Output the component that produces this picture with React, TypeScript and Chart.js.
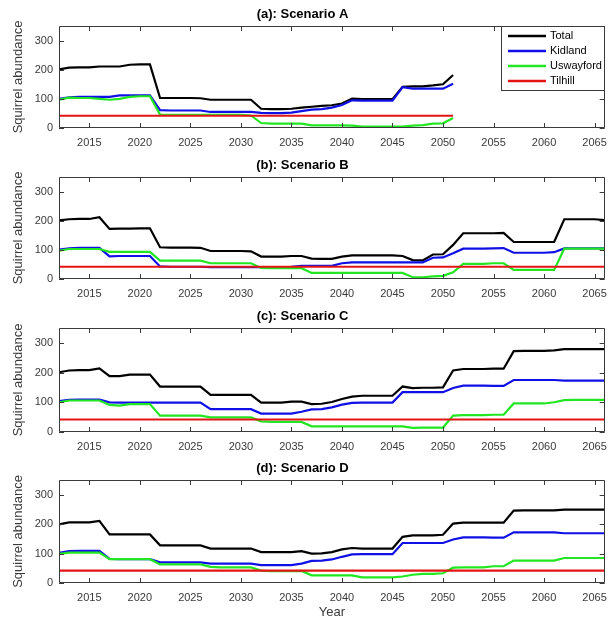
import React, { useEffect, useRef } from "react";
import { Chart, registerables } from "chart.js";

Chart.register(...registerables);

// ---------- data ----------
const YEARS_A = [
  2012, 2013, 2014, 2015, 2016, 2017, 2018, 2019, 2020, 2021,
  2022, 2023, 2024, 2025, 2026, 2027, 2028, 2029, 2030, 2031,
  2032, 2033, 2034, 2035, 2036, 2037, 2038, 2039, 2040, 2041,
  2042, 2043, 2044, 2045, 2046, 2047, 2048, 2049, 2050, 2051,
];
const YEARS = [
  2012, 2013, 2014, 2015, 2016, 2017, 2018, 2019, 2020, 2021,
  2022, 2023, 2024, 2025, 2026, 2027, 2028, 2029, 2030, 2031,
  2032, 2033, 2034, 2035, 2036, 2037, 2038, 2039, 2040, 2041,
  2042, 2043, 2044, 2045, 2046, 2047, 2048, 2049, 2050, 2051,
  2052, 2053, 2054, 2055, 2056, 2057, 2058, 2059, 2060, 2061,
  2062, 2063, 2064, 2065, 2066,
];

const X_TICKS = [2015, 2020, 2025, 2030, 2035, 2040, 2045, 2050, 2055, 2060, 2065];
const Y_TICKS = [0, 100, 200, 300];

const SERIES_NAMES = ["Total", "Kidland", "Uswayford", "Tilhill"];
const SERIES_COLORS = ["#000000", "#1010e6", "#22e622", "#e41414"];

const PANEL_TITLES = ["(a): Scenario A", "(b): Scenario B", "(c): Scenario C", "(d): Scenario D"];

// Scenario A (2012-2051)
const TOTAL_A = [
  201, 207, 208, 208, 211, 211, 211, 217, 218, 218,
  103, 103, 103, 103, 102, 97, 97, 97, 97, 97,
  66, 65, 65, 66, 70, 73, 76, 78, 84, 101,
  99, 99, 99, 99, 141, 143, 143, 146, 150, 182,
];
const KIDLAND_A = [
  100, 105, 107, 107, 107, 107, 112, 112, 112, 112,
  61, 60, 60, 60, 60, 55, 55, 55, 55, 55,
  52, 51, 51, 53, 58, 63, 65, 70, 79, 95,
  94, 94, 94, 94, 140, 135, 135, 135, 135, 152,
];
const USWAYFORD_A = [
  97, 104, 103, 103, 100, 97, 100, 107, 109, 109,
  46, 45, 45, 45, 45, 45, 45, 45, 45, 43,
  17, 15, 15, 15, 15, 9, 9, 9, 9, 8,
  5, 5, 5, 5, 5, 8, 10, 15, 16, 34,
];
const TILHILL_A = [
  42, 42, 42, 42, 42, 42, 42, 42, 42, 42,
  42, 42, 42, 42, 42, 42, 42, 42, 42, 42,
  42, 42, 42, 42, 42, 42, 42, 42, 42, 42,
  42, 42, 42, 42, 42, 42, 42, 42, 42, 42,
];

// Scenario B (2012-2066)
const TOTAL_B = [
  201, 205, 206, 206, 212, 172, 173, 173, 174, 174,
  109, 108, 108, 108, 107, 96, 96, 96, 96, 95,
  77, 77, 77, 79, 79, 70, 69, 69, 77, 81,
  81, 81, 81, 81, 79, 65, 64, 84, 85, 117,
  157, 157, 157, 157, 158, 127, 127, 127, 127, 127,
  205, 205, 205, 205, 202,
];
const KIDLAND_B = [
  101, 105, 107, 107, 107, 78, 79, 79, 79, 79,
  43, 42, 42, 42, 42, 41, 41, 41, 41, 41,
  41, 41, 41, 42, 45, 45, 45, 45, 54, 57,
  57, 57, 57, 57, 57, 57, 57, 73, 74, 88,
  104, 104, 104, 105, 106, 90, 90, 90, 90, 92,
  105, 105, 105, 105, 105,
];
const USWAYFORD_B = [
  97, 103, 103, 103, 103, 93, 93, 93, 93, 93,
  63, 63, 63, 63, 63, 54, 54, 54, 54, 54,
  38, 37, 37, 37, 37, 21, 21, 21, 21, 21,
  21, 21, 21, 21, 21, 6, 6, 9, 11, 23,
  52, 52, 52, 54, 54, 31, 31, 31, 31, 31,
  104, 104, 104, 104, 104,
];
const TILHILL_B = [
  42, 42, 42, 42, 42, 42, 42, 42, 42, 42,
  42, 42, 42, 42, 42, 42, 42, 42, 42, 42,
  42, 42, 42, 42, 42, 42, 42, 42, 42, 42,
  42, 42, 42, 42, 42, 42, 42, 42, 42, 42,
  42, 42, 42, 42, 42, 42, 42, 42, 42, 42,
  42, 42, 42, 42, 42,
];

// Scenario C (2012-2066)
const TOTAL_C = [
  201, 207, 208, 208, 214, 188, 188, 193, 193, 193,
  153, 153, 153, 153, 153, 125, 125, 125, 125, 125,
  99, 99, 99, 102, 102, 94, 95, 101, 111, 119,
  122, 122, 122, 122, 153, 148, 149, 149, 150, 207,
  212, 212, 212, 213, 213, 272, 273, 273, 273, 275,
  279, 279, 279, 279, 279,
];
const KIDLAND_C = [
  104, 108, 109, 109, 109, 100, 99, 99, 99, 99,
  99, 99, 99, 99, 99, 77, 77, 77, 77, 77,
  62, 62, 62, 62, 68, 76, 77, 83, 92, 98,
  99, 99, 99, 99, 134, 134, 134, 134, 134, 148,
  156, 156, 156, 155, 155, 175, 175, 175, 175, 175,
  173, 173, 173, 173, 173,
];
const USWAYFORD_C = [
  100, 106, 106, 106, 106, 91, 89, 94, 94, 94,
  55, 55, 55, 55, 55, 49, 49, 49, 49, 49,
  36, 34, 34, 34, 34, 19, 19, 19, 19, 19,
  19, 19, 19, 19, 19, 14, 15, 15, 15, 55,
  57, 57, 57, 58, 58, 96, 96, 96, 96, 100,
  107, 108, 108, 108, 108,
];
const TILHILL_C = [
  42, 42, 42, 42, 42, 42, 42, 42, 42, 42,
  42, 42, 42, 42, 42, 42, 42, 42, 42, 42,
  42, 42, 42, 42, 42, 42, 42, 42, 42, 42,
  42, 42, 42, 42, 42, 42, 42, 42, 42, 42,
  42, 42, 42, 42, 42, 42, 42, 42, 42, 42,
  42, 42, 42, 42, 42,
];

// Scenario D (2012-2066)
const TOTAL_D = [
  199, 206, 206, 206, 211, 165, 165, 165, 165, 165,
  128, 128, 128, 128, 128, 117, 117, 117, 117, 117,
  105, 105, 105, 105, 108, 100, 101, 105, 114, 119,
  117, 117, 117, 117, 157, 162, 162, 162, 164, 202,
  205, 205, 205, 205, 205, 246, 247, 247, 247, 247,
  249, 249, 249, 249, 249,
];
const KIDLAND_D = [
  102, 108, 109, 109, 109, 82, 81, 81, 81, 81,
  70, 70, 70, 70, 70, 66, 66, 66, 66, 66,
  61, 61, 61, 61, 66, 75, 76, 80, 89, 97,
  98, 98, 98, 98, 136, 136, 136, 136, 136, 148,
  155, 155, 155, 154, 154, 172, 172, 172, 172, 172,
  169, 169, 169, 169, 169,
];
const USWAYFORD_D = [
  99, 103, 103, 103, 103, 81, 81, 81, 81, 81,
  63, 63, 63, 63, 63, 55, 53, 53, 53, 53,
  42, 40, 40, 40, 41, 26, 26, 26, 26, 26,
  19, 19, 19, 19, 22, 28, 31, 31, 33, 52,
  53, 53, 53, 57, 57, 76, 76, 76, 76, 76,
  85, 85, 85, 85, 85,
];
const TILHILL_D = [
  42, 42, 42, 42, 42, 42, 42, 42, 42, 42,
  42, 42, 42, 42, 42, 42, 42, 42, 42, 42,
  42, 42, 42, 42, 42, 42, 42, 42, 42, 42,
  42, 42, 42, 42, 42, 42, 42, 42, 42, 42,
  42, 42, 42, 42, 42, 42, 42, 42, 42, 42,
  42, 42, 42, 42, 42,
];

const PANEL_DATA = [
  { years: YEARS_A, series: [TOTAL_A, KIDLAND_A, USWAYFORD_A, TILHILL_A] },
  { years: YEARS, series: [TOTAL_B, KIDLAND_B, USWAYFORD_B, TILHILL_B] },
  { years: YEARS, series: [TOTAL_C, KIDLAND_C, USWAYFORD_C, TILHILL_C] },
  { years: YEARS, series: [TOTAL_D, KIDLAND_D, USWAYFORD_D, TILHILL_D] },
];

// ---------- layout ----------
const FONT = 'Arial, "Liberation Sans", Helvetica, sans-serif';
const AXIS_COLOR = "#3a3a3a";
const TITLE_H = 26;
const Y_AXIS_W = 59;
const PANEL_GEOM = [
  { top: 0, h: 150, plotH: 102 },
  { top: 151, h: 150, plotH: 102 },
  { top: 302, h: 151, plotH: 104 },
  { top: 454, h: 167, plotH: 103 },
];

const framePlugin = {
  id: "matlabFrame",
  afterDatasetsDraw(chart: any) {
    const { ctx, chartArea } = chart;
    const { left, right, top, bottom } = chartArea;
    const xs = chart.scales.x;
    const ys = chart.scales.y;
    const tl = 5;
    ctx.save();
    ctx.strokeStyle = AXIS_COLOR;
    ctx.lineWidth = 1;
    ctx.beginPath();
    ctx.rect(Math.round(left) + 0.5, Math.round(top) + 0.5, Math.round(right - left) - 1, Math.round(bottom - top) - 1);
    for (const t of xs.ticks) {
      const px = Math.round(xs.getPixelForValue(t.value)) + 0.5;
      ctx.moveTo(px, bottom);
      ctx.lineTo(px, bottom - tl);
      ctx.moveTo(px, top);
      ctx.lineTo(px, top + tl);
    }
    for (const t of ys.ticks) {
      const py = Math.round(ys.getPixelForValue(t.value)) + 0.5;
      ctx.moveTo(left, py);
      ctx.lineTo(left + tl, py);
      ctx.moveTo(right, py);
      ctx.lineTo(right - tl, py);
    }
    ctx.stroke();
    ctx.restore();
  },
};

const legendPlugin = {
  id: "matlabLegend",
  afterDraw(chart: any) {
    const { ctx, chartArea } = chart;
    const boxL = 501;
    const boxT = Math.round(chartArea.top);
    const boxR = Math.round(chartArea.right);
    const rowH = 15;
    const n = chart.data.datasets.length;
    const boxB = boxT + 9 + rowH * n - 5;
    ctx.save();
    ctx.fillStyle = "#ffffff";
    ctx.fillRect(boxL, boxT, boxR - boxL, boxB - boxT);
    ctx.strokeStyle = AXIS_COLOR;
    ctx.lineWidth = 1;
    ctx.strokeRect(boxL + 0.5, boxT + 0.5, boxR - boxL - 1, boxB - boxT);
    ctx.font = `11px ${FONT}`;
    ctx.textBaseline = "middle";
    ctx.textAlign = "left";
    chart.data.datasets.forEach((ds: any, i: number) => {
      const y = boxT + 10 + i * rowH;
      ctx.strokeStyle = ds.borderColor;
      ctx.lineWidth = 2.5;
      ctx.beginPath();
      ctx.moveTo(508, y);
      ctx.lineTo(546, y);
      ctx.stroke();
      ctx.fillStyle = "#000000";
      ctx.fillText(ds.label, 550, y);
    });
    ctx.restore();
  },
};

function Panel({ index }: { index: number }) {
  const ref = useRef<HTMLCanvasElement | null>(null);
  const geom = PANEL_GEOM[index];
  const isLast = index === PANEL_GEOM.length - 1;

  useEffect(() => {
    if (!ref.current) return;
    const pd = PANEL_DATA[index];
    const xAxisH = geom.h - TITLE_H - geom.plotH;
    const chart = new Chart(ref.current, {
      type: "line",
      data: {
        datasets: pd.series.map((vals, si) => ({
          label: SERIES_NAMES[si],
          data: pd.years.map((x, i) => ({ x, y: vals[i] })),
          borderColor: SERIES_COLORS[si],
          backgroundColor: SERIES_COLORS[si],
          borderWidth: 2.2,
          pointRadius: 0,
          tension: 0,
          fill: false,
          order: SERIES_NAMES.length - 1 - si,
        })),
      },
      options: {
        animation: false,
        responsive: false,
        maintainAspectRatio: false,
        events: [],
        layout: { padding: { left: 0, right: 10, top: 0, bottom: 0 } },
        plugins: {
          legend: { display: false },
          tooltip: { enabled: false },
          title: {
            display: true,
            text: PANEL_TITLES[index],
            color: "#000000",
            font: { family: FONT, size: 13, weight: "bold" },
            padding: { top: 7, bottom: 3.4 },
          },
        },
        scales: {
          x: {
            type: "linear",
            min: 2012,
            max: 2066,
            grid: { display: false, drawTicks: false, tickLength: 0 },
            border: { display: false },
            afterBuildTicks: (s: any) => {
              s.ticks = X_TICKS.map((v) => ({ value: v }));
            },
            afterFit: (s: any) => {
              s.height = xAxisH;
            },
            ticks: {
              autoSkip: false,
              maxRotation: 0,
              padding: 8,
              color: AXIS_COLOR,
              font: { family: FONT, size: 11 },
              callback: (v: any) => String(v),
            },
            title: {
              display: isLast,
              text: "Year",
              color: AXIS_COLOR,
              font: { family: FONT, size: 13 },
              padding: { top: 0, bottom: 1 },
            },
          },
          y: {
            min: 0,
            max: 350,
            grid: { display: false, drawTicks: false, tickLength: 0 },
            border: { display: false },
            afterBuildTicks: (s: any) => {
              s.ticks = Y_TICKS.map((v) => ({ value: v }));
            },
            afterFit: (s: any) => {
              s.width = Y_AXIS_W;
            },
            ticks: {
              padding: 6,
              color: AXIS_COLOR,
              font: { family: FONT, size: 11 },
              callback: (v: any) => String(v),
            },
            title: {
              display: true,
              text: "Squirrel abundance",
              color: AXIS_COLOR,
              font: { family: FONT, size: 13 },
              padding: { top: 11, bottom: 0 },
            },
          },
        },
      } as any,
      plugins: index === 0 ? [framePlugin, legendPlugin] : [framePlugin],
    });
    return () => chart.destroy();
  }, [index]);

  return (
    <div style={{ position: "absolute", left: 0, top: geom.top, width: 615, height: geom.h }}>
      <canvas ref={ref} width={615} height={geom.h} style={{ display: "block", width: 615, height: geom.h }} />
    </div>
  );
}

export default function App() {
  return (
    <div style={{ position: "absolute", left: 0, top: 0, width: 615, height: 621, background: "#ffffff" }}>
      {PANEL_GEOM.map((_, i) => (
        <Panel key={i} index={i} />
      ))}
    </div>
  );
}
